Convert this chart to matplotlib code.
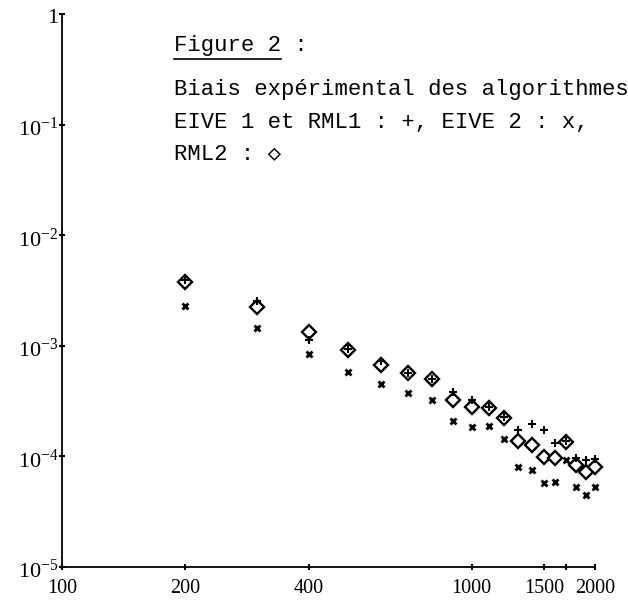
import numpy as np
import matplotlib
matplotlib.use("Agg")
import matplotlib.pyplot as plt
import matplotlib.transforms as mtransforms
from matplotlib.lines import Line2D

# sample sizes N
n_values = [200, 300, 400, 500, 600, 700, 800, 900, 1000, 1100,
            1200, 1300, 1400, 1500, 1600, 1700, 1800, 1900, 2000]

# EIVE 1 et RML1 (+)
bias_eive1 = [3.9e-3, 2.54e-3, 1.13e-3, 9.4e-4, 7.29e-4, 5.7e-4, 5.0e-4, 3.82e-4, 3.24e-4, 2.8e-4,
              2.25e-4, 1.73e-4, 1.96e-4, 1.73e-4, 1.32e-4, 1.38e-4, 9.68e-5, 9.27e-5, 9.46e-5]
# EIVE 2 (x)
bias_eive2 = [2.29e-3, 1.45e-3, 8.43e-4, 5.80e-4, 4.52e-4, 3.74e-4, 3.24e-4, 2.09e-4, 1.85e-4, 1.88e-4,
              1.44e-4, 8.02e-5, 7.53e-5, 5.74e-5, 5.87e-5, 9.27e-5, 5.29e-5, 4.48e-5, 5.29e-5]
# RML2 (diamond)
bias_rml2 = [3.77e-3, 2.24e-3, 1.33e-3, 9.16e-4, 6.70e-4, 5.67e-4, 5.01e-4, 3.24e-4, 2.80e-4, 2.74e-4,
             2.22e-4, 1.38e-4, 1.27e-4, 9.88e-5, 9.68e-5, 1.35e-4, 8.36e-5, 7.22e-5, 8.02e-5]

x_ticks = [100, 200, 400, 1000, 1500, 2000]
x_labels = ["100", "200", "400", "1000", "1500", "2000"]
y_ticks = [1e-5, 1e-4, 1e-3, 1e-2, 1e-1, 1]
y_labels = [r"$\mathregular{10^{-5}}$", r"$\mathregular{10^{-4}}$", r"$\mathregular{10^{-3}}$",
            r"$\mathregular{10^{-2}}$", r"$\mathregular{10^{-1}}$", "1"]

plt.rcParams["font.family"] = ["Liberation Serif", "DejaVu Serif"]
plt.rcParams["mathtext.fontset"] = "custom"
plt.rcParams["mathtext.rm"] = "Liberation Serif"

fig = plt.figure(figsize=(6.28, 6.01), dpi=100)
ax = fig.add_axes([62 / 628, 34 / 601, 533 / 628, 553 / 601])

ax.set_xscale("log")
ax.set_yscale("log")
ax.set_xlim(100, 2000)
ax.set_ylim(1e-5, 1)

ax.plot(n_values, bias_rml2, linestyle="none", marker="D", markersize=7,
        markerfacecolor="white", markeredgecolor="black", markeredgewidth=1.7, clip_on=False)
ax.plot(n_values, bias_eive1, linestyle="none", marker="+", markersize=6,
        color="black", markeredgewidth=1.5, clip_on=False)
ax.plot(n_values, bias_eive2, linestyle="none", marker="x", markersize=4.5,
        color="black", markeredgewidth=2, clip_on=False)

for side in ["top", "right"]:
    ax.spines[side].set_visible(False)
for side in ["left", "bottom"]:
    ax.spines[side].set_linewidth(1.3)

ax.set_xticks(x_ticks)
ax.set_xticklabels(x_labels, fontsize=14.5)
ax.set_xticks([1700], minor=True)
ax.set_xticklabels([""], minor=True)
ax.set_yticks(y_ticks)
ax.set_yticklabels(y_labels, fontsize=16)
ax.yaxis.set_minor_locator(matplotlib.ticker.NullLocator())
ax.tick_params(axis="both", which="both", direction="inout", length=5, width=1.5)
ax.tick_params(axis="y", pad=0)
ax.tick_params(axis="x", pad=6)

# nudge the y labels down a little, like the original
shift = mtransforms.ScaledTranslation(0, -2 / 100, fig.dpi_scale_trans)
for lab in ax.get_yticklabels():
    lab.set_transform(lab.get_transform() + shift)

# caption block
mono = ["Liberation Mono", "DejaVu Sans Mono"]
x0 = 174 / 628
t = fig.text(x0, 1 - 46 / 601, "Figure 2", family=mono, fontsize=16, va="center")
fig.text(x0, 1 - 46 / 601, "Figure 2 :", family=mono, fontsize=16, va="center")
fig.text(x0, 1 - 90 / 601, "Biais expérimental des algorithmes", family=mono, fontsize=16, va="center")
fig.text(x0, 1 - 122 / 601, "EIVE 1 et RML1 : +, EIVE 2 : x,", family=mono, fontsize=16, va="center")
fig.text(x0, 1 - 154 / 601, "RML2 : \u25c7", family=mono, fontsize=16, va="center")

fig.canvas.draw()
bb = t.get_window_extent().transformed(fig.transFigure.inverted())
t.set_visible(False)
fig.add_artist(Line2D([bb.x0, bb.x1], [bb.y0 - 0.004, bb.y0 - 0.004],
                      transform=fig.transFigure, color="black", linewidth=1.2))

fig.savefig("out.png", dpi=100)
